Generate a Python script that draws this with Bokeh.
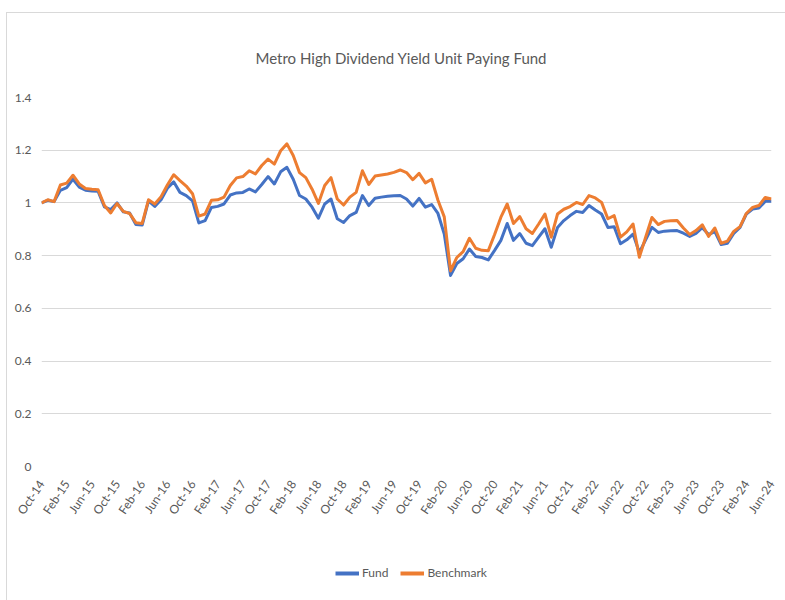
from bokeh.plotting import figure
from bokeh.layouts import column
from bokeh.models import (Range1d, FixedTicker, CustomJSTickFormatter, Legend, LegendItem)
from bokeh.embed import file_html
from bokeh.resources import INLINE

# ---------------- data ----------------
# monthly observations, Oct-14 .. Jun-24 (117 months); index = month number
tick_labels = ["Oct-14", "Feb-15", "Jun-15", "Oct-15", "Feb-16", "Jun-16", "Oct-16", "Feb-17",
               "Jun-17", "Oct-17", "Feb-18", "Jun-18", "Oct-18", "Feb-19", "Jun-19", "Oct-19",
               "Feb-20", "Jun-20", "Oct-20", "Feb-21", "Jun-21", "Oct-21", "Feb-22", "Jun-22",
               "Oct-22", "Feb-23", "Jun-23", "Oct-23", "Feb-24", "Jun-24"]

series_names = ["Fund", "Benchmark"]
series_colors = ["#4472C4", "#ED7D31"]

fund = [1.000, 1.010, 1.005, 1.048, 1.058, 1.090, 1.060, 1.048, 1.045, 1.044,
        0.985, 0.975, 1.000, 0.966, 0.962, 0.918, 0.916, 1.008, 0.987, 1.012,
        1.056, 1.080, 1.040, 1.028, 1.008, 0.924, 0.933, 0.983, 0.987, 0.996,
        1.030, 1.038, 1.040, 1.053, 1.042, 1.070, 1.100, 1.072, 1.118, 1.135,
        1.090, 1.028, 1.015, 0.984, 0.942, 0.996, 1.015, 0.940, 0.926, 0.952,
        0.964, 1.028, 0.990, 1.018, 1.022, 1.025, 1.027, 1.028, 1.015, 0.988,
        1.017, 0.984, 0.994, 0.960, 0.882, 0.725, 0.770, 0.788, 0.825, 0.797,
        0.793, 0.784, 0.820, 0.858, 0.922, 0.858, 0.884, 0.847, 0.838, 0.870,
        0.902, 0.832, 0.907, 0.933, 0.952, 0.968, 0.964, 0.990, 0.973, 0.958,
        0.907, 0.910, 0.845, 0.860, 0.882, 0.812, 0.860, 0.907, 0.888, 0.893,
        0.894, 0.895, 0.885, 0.873, 0.884, 0.906, 0.880, 0.891, 0.842, 0.847,
        0.884, 0.907, 0.958, 0.977, 0.981, 1.006, 1.006]

benchmark = [1.000, 1.012, 1.005, 1.068, 1.075, 1.105, 1.072, 1.055, 1.052, 1.050,
             0.990, 0.962, 0.998, 0.968, 0.960, 0.925, 0.922, 1.012, 0.996, 1.024,
             1.068, 1.107, 1.085, 1.064, 1.035, 0.950, 0.958, 1.010, 1.012, 1.022,
             1.066, 1.095, 1.100, 1.122, 1.110, 1.142, 1.166, 1.147, 1.198, 1.224,
             1.180, 1.115, 1.096, 1.052, 0.998, 1.066, 1.096, 1.015, 0.992, 1.022,
             1.040, 1.122, 1.070, 1.102, 1.106, 1.110, 1.116, 1.125, 1.115, 1.088,
             1.112, 1.076, 1.090, 1.010, 0.947, 0.742, 0.793, 0.815, 0.866, 0.828,
             0.820, 0.819, 0.880, 0.946, 0.996, 0.922, 0.948, 0.902, 0.884, 0.920,
             0.958, 0.870, 0.958, 0.976, 0.986, 1.002, 0.994, 1.028, 1.019, 1.002,
             0.940, 0.952, 0.870, 0.890, 0.920, 0.794, 0.870, 0.945, 0.918, 0.930,
             0.932, 0.933, 0.905, 0.880, 0.895, 0.917, 0.873, 0.905, 0.847, 0.855,
             0.892, 0.910, 0.960, 0.983, 0.990, 1.021, 1.015]

y_ticks = [0, 0.2, 0.4, 0.6, 0.8, 1.0, 1.2, 1.4]

months = list(range(len(fund)))
x_tick_pos = list(range(0, len(fund), 4))

# ---------------- main figure ----------------
TXT = "#595959"
FONT = "Lato"

p = figure(width=778, height=532, output_backend="svg", toolbar_location=None,
           x_range=Range1d(0, len(fund) - 1), y_range=Range1d(0, 1.4),
           min_border_left=34, min_border_right=14, min_border_top=84, min_border_bottom=79,
           background_fill_color="white", border_fill_color="white")
p.outline_line_color = None

p.title.text = "Metro High Dividend Yield Unit Paying Fund"
p.title.align = "left"
p.title.offset = 214
p.title.text_font = FONT
p.title.text_font_size = "15px"
p.title.text_font_style = "normal"
p.title.text_color = TXT
p.title.text_line_height = 1.0
p.title.standoff = 62

# y axis
p.yaxis.ticker = FixedTicker(ticks=y_ticks)
p.yaxis.formatter = CustomJSTickFormatter(code="return String(Math.round(tick * 10) / 10);")
p.yaxis.axis_line_color = None
p.yaxis.major_tick_line_color = None
p.yaxis.minor_tick_line_color = None
p.yaxis.major_tick_out = 0
p.yaxis.major_label_standoff = 10
p.yaxis.major_label_text_font = FONT
p.yaxis.major_label_text_font_size = "12px"
p.yaxis.major_label_text_color = TXT

# x axis
p.xaxis.ticker = FixedTicker(ticks=x_tick_pos)
p.xaxis.major_label_overrides = {pos: lab for pos, lab in zip(x_tick_pos, tick_labels)}
p.xaxis.major_label_orientation = 0.98
p.xaxis.axis_line_color = None
p.xaxis.major_tick_line_color = None
p.xaxis.minor_tick_line_color = None
p.xaxis.major_tick_out = 0
p.xaxis.major_label_standoff = 15
p.xaxis.major_label_text_font = FONT
p.xaxis.major_label_text_font_size = "12px"
p.xaxis.major_label_text_color = TXT

# grid
p.xgrid.visible = False
p.ygrid.ticker = FixedTicker(ticks=y_ticks)
p.ygrid.grid_line_color = "#D9D9D9"
p.ygrid.grid_line_width = 1

r_fund = p.line(months, fund, line_color=series_colors[0], line_width=3, line_join="round")
r_bench = p.line(months, benchmark, line_color=series_colors[1], line_width=3, line_join="round")

# ---------------- legend strip ----------------
lg = figure(width=778, height=55, output_backend="svg", toolbar_location=None,
            x_range=Range1d(0, 1), y_range=Range1d(0, 1),
            x_axis_location=None, y_axis_location=None,
            min_border_left=0, min_border_right=0, min_border_top=0, min_border_bottom=0,
            background_fill_color="white", border_fill_color="white")
lg.grid.visible = False
lg.outline_line_color = None
# renderers used only as legend keys (points lie outside the visible range)
lr1 = lg.line([5, 6], [5, 6], line_color=series_colors[0], line_width=4)
lr2 = lg.line([5, 6], [5, 6], line_color=series_colors[1], line_width=4)

legend = Legend(items=[LegendItem(label=series_names[0], renderers=[lr1]),
                       LegendItem(label=series_names[1], renderers=[lr2])],
                orientation="horizontal", location=(294, 20),
                label_text_font=FONT, label_text_font_size="12px", label_text_color=TXT,
                glyph_width=24, glyph_height=12, label_standoff=3, spacing=12,
                padding=0, margin=0, border_line_color=None, background_fill_alpha=0)
lg.add_layout(legend, "center")

layout = column(p, lg, spacing=0,
                styles={"margin-left": "6px", "margin-top": "12px",
                        "border-left": "1px solid #D9D9D9", "border-top": "1px solid #D9D9D9"})
open("out.html", "w").write(file_html(layout, INLINE))
